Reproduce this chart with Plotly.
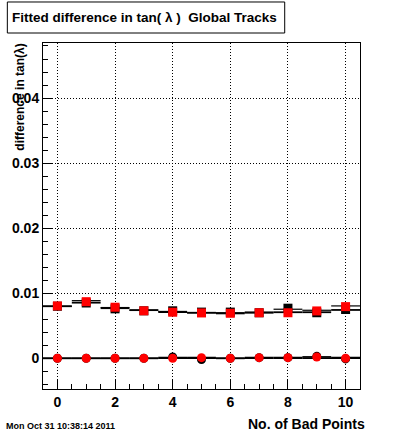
import plotly.graph_objects as go

bad_points = [0, 1, 2, 3, 4, 5, 6, 7, 8, 9, 10]

# upper group (squares)
hist_a = [0.0080, 0.00886, 0.0078, 0.0074, 0.0072, 0.0070, 0.0070, 0.0071, 0.00754, 0.00738, 0.00805]
hist_b = [0.0080, 0.00855, 0.0077, 0.0074, 0.0071, 0.0070, 0.0069, 0.0070, 0.00708, 0.00708, 0.00743]
black_sq = [0.0080, 0.0085, 0.0076, 0.0073, 0.0073, 0.0071, 0.0071, 0.0070, 0.0077, 0.0070, 0.0075]
red_sq = [0.00805, 0.0087, 0.00785, 0.0073, 0.00708, 0.00697, 0.00692, 0.0070, 0.0070, 0.00728, 0.00794]

# lower group (circles)
hist_c = [0.0, 0.0, 0.0, 0.0, 0.0001, 0.0001, 0.0, 0.0001, 0.0001, 0.0002, 0.0001]
hist_d = [0.0, 0.0, 0.0, 0.0, 0.0, 0.0, 0.0, 0.0, 0.0, 0.0, 0.0]
black_ci = [0.0, 0.0, 0.0, 0.0, 0.0002, -0.0002, 0.0, 0.0001, 0.0001, 0.0003, -0.0001]
red_ci = [0.0, 0.0, 0.0, 0.0, 0.0, 0.0001, 0.0, 0.0001, 0.0001, 0.0002, 0.0]

half_bin = [0.5] * len(bad_points)

FONT = "Liberation Sans, Arial, Helvetica, sans-serif"

fig = go.Figure()

def hist_line(vals, width=1.5):
    fig.add_trace(go.Scatter(
        x=bad_points, y=vals, mode="markers",
        marker=dict(size=1, color="black", opacity=0),
        error_x=dict(type="data", array=half_bin, symmetric=True, width=0,
                     color="black", thickness=width),
        showlegend=False, hoverinfo="skip"))

hist_line(hist_a, 1.2)
hist_line(hist_b, 1.8)
hist_line(hist_c, 1.8)
hist_line(hist_d, 1.4)

fig.add_trace(go.Scatter(x=bad_points, y=black_sq, mode="markers",
                         marker=dict(symbol="square", size=9, color="black"),
                         showlegend=False))
fig.add_trace(go.Scatter(x=bad_points, y=black_ci, mode="markers",
                         marker=dict(symbol="circle", size=9, color="black"),
                         showlegend=False))
fig.add_trace(go.Scatter(x=bad_points, y=red_sq, mode="markers",
                         marker=dict(symbol="square", size=9, color="#ff0000"),
                         showlegend=False))
fig.add_trace(go.Scatter(x=bad_points, y=red_ci, mode="markers",
                         marker=dict(symbol="circle", size=9, color="#ff0000"),
                         showlegend=False))

fig.update_layout(
    width=400, height=433,
    margin=dict(l=40, r=40, t=43, b=44, pad=0),
    paper_bgcolor="white", plot_bgcolor="white",
    font=dict(family=FONT, color="black"),
    showlegend=False,
)

fig.update_xaxes(
    range=[-0.5, 10.5], tickmode="linear", tick0=0, dtick=2,
    ticks="inside", ticklen=10, tickcolor="black", tickwidth=1,
    minor=dict(dtick=0.5, tick0=0, ticks="inside", ticklen=5, tickcolor="black", showgrid=False),
    showline=True, linecolor="black", linewidth=1, mirror=True,
    showgrid=True, gridcolor="black", griddash="1px,2px", gridwidth=1,
    zeroline=False,
    tickfont=dict(size=14, weight="bold", family=FONT),
)
fig.update_yaxes(
    range=[-0.00472, 0.04846], tickmode="linear", tick0=0, dtick=0.01,
    ticks="inside", ticklen=10, tickcolor="black", tickwidth=1,
    minor=dict(dtick=0.002, tick0=0, ticks="inside", ticklen=5, tickcolor="black", showgrid=False),
    showline=True, linecolor="black", linewidth=1, mirror=True,
    showgrid=True, gridcolor="black", griddash="1px,2px", gridwidth=1,
    zeroline=False,
    tickfont=dict(size=14, weight="bold", family=FONT),
)

# title box
fig.add_shape(type="rect", xref="paper", yref="paper",
              x0=-0.1125, x1=0.7625, y0=1.0289, y1=1.1185,
              line=dict(color="black", width=1), fillcolor="white")
fig.add_annotation(xref="paper", yref="paper", x=-0.103, y=1.0737,
                   xanchor="left", yanchor="middle", showarrow=False,
                   text="Fitted difference in tan( \u03bb )  Global Tracks",
                   font=dict(size=13.5, weight="bold", family=FONT))
# y axis title
fig.add_annotation(xref="paper", yref="paper", x=-0.072, y=1.003,
                   xanchor="center", yanchor="top", showarrow=False, textangle=-90,
                   text="difference in tan(\u03bb)",
                   font=dict(size=12, weight="bold", family=FONT))
# x axis title
fig.add_annotation(xref="paper", yref="paper", x=1.022, y=-0.072,
                   xanchor="right", yanchor="top", showarrow=False,
                   text="No. of Bad Points",
                   font=dict(size=14, weight="bold", family=FONT))
# date stamp
fig.add_annotation(xref="paper", yref="paper", x=-0.122, y=-0.088,
                   xanchor="left", yanchor="top", showarrow=False,
                   text="Mon Oct 31 10:38:14 2011",
                   font=dict(size=9, weight="bold", family=FONT))

fig.write_html("out.html", config={"displayModeBar": False},
               post_script="document.body.style.margin='0';document.body.style.overflow='hidden';")
